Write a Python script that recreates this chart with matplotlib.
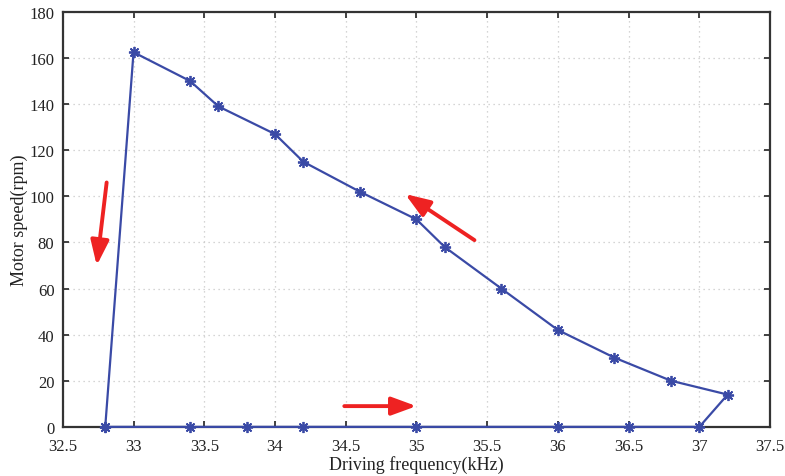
import matplotlib.pyplot as plt

plt.rcParams['font.family'] = ['Liberation Serif', 'DejaVu Serif']

# sweep path: up-sweep along zero, then jump and down-sweep back
freq = [32.8, 33.4, 33.8, 34.2, 35.0, 36.0, 36.5, 37.0,
        37.2, 36.8, 36.4, 36.0, 35.6, 35.2, 35.0, 34.6, 34.2, 34.0, 33.6, 33.4, 33.0, 32.8]
speed = [0, 0, 0, 0, 0, 0, 0, 0,
         14, 20, 30, 42, 60, 78, 90, 102, 115, 127, 139, 150, 162.5, 0]

xticks = [32.5, 33, 33.5, 34, 34.5, 35, 35.5, 36, 36.5, 37, 37.5]
xtick_labels = ['32.5', '33', '33.5', '34', '34.5', '35', '35.5', '36', '36.5', '37', '37.5']
yticks = [0, 20, 40, 60, 80, 100, 120, 140, 160, 180]

# arrows (tail, tip) in data units
arrows = [((32.81, 106), (32.74, 70)),
          ((35.41, 81), (34.92, 101)),
          ((34.49, 9), (35.0, 9))]

fig = plt.figure(figsize=(7.85, 4.77), dpi=100)
ax = fig.add_axes([0.080, 0.103, 0.901, 0.870])

ax.plot(freq, speed, '-', color='#3a4aa6', lw=1.6, marker=(8, 2, 0), ms=8,
        mew=1.3, clip_on=False, zorder=3)

for tail, tip in arrows:
    ax.annotate('', xy=tip, xytext=tail,
                arrowprops=dict(arrowstyle='-|>,head_length=1.5,head_width=0.55',
                                color='#ee2222', lw=2.8, shrinkA=0, shrinkB=0))

ax.set_xlim(32.5, 37.5)
ax.set_ylim(0, 180)
ax.set_xticks(xticks)
ax.set_xticklabels(xtick_labels)
ax.set_yticks(yticks)
ax.tick_params(direction='in', top=True, right=True, labelsize=12, length=4,
               width=1.3, color='#333333', labelcolor='#222222')
ax.tick_params(axis='x', pad=8)
ax.tick_params(axis='y', pad=6)
ax.grid(True, linestyle=(0, (1, 3)), color='#c8c8c8', lw=0.9)
for s in ax.spines.values():
    s.set_linewidth(1.6)
    s.set_color('#333333')

ax.set_xlabel('Driving frequency(kHz)', fontsize=13, labelpad=1, color='#222222')
ax.set_ylabel('Motor speed(rpm)', fontsize=13, labelpad=1, color='#222222')

fig.savefig('out.png', dpi=100)
